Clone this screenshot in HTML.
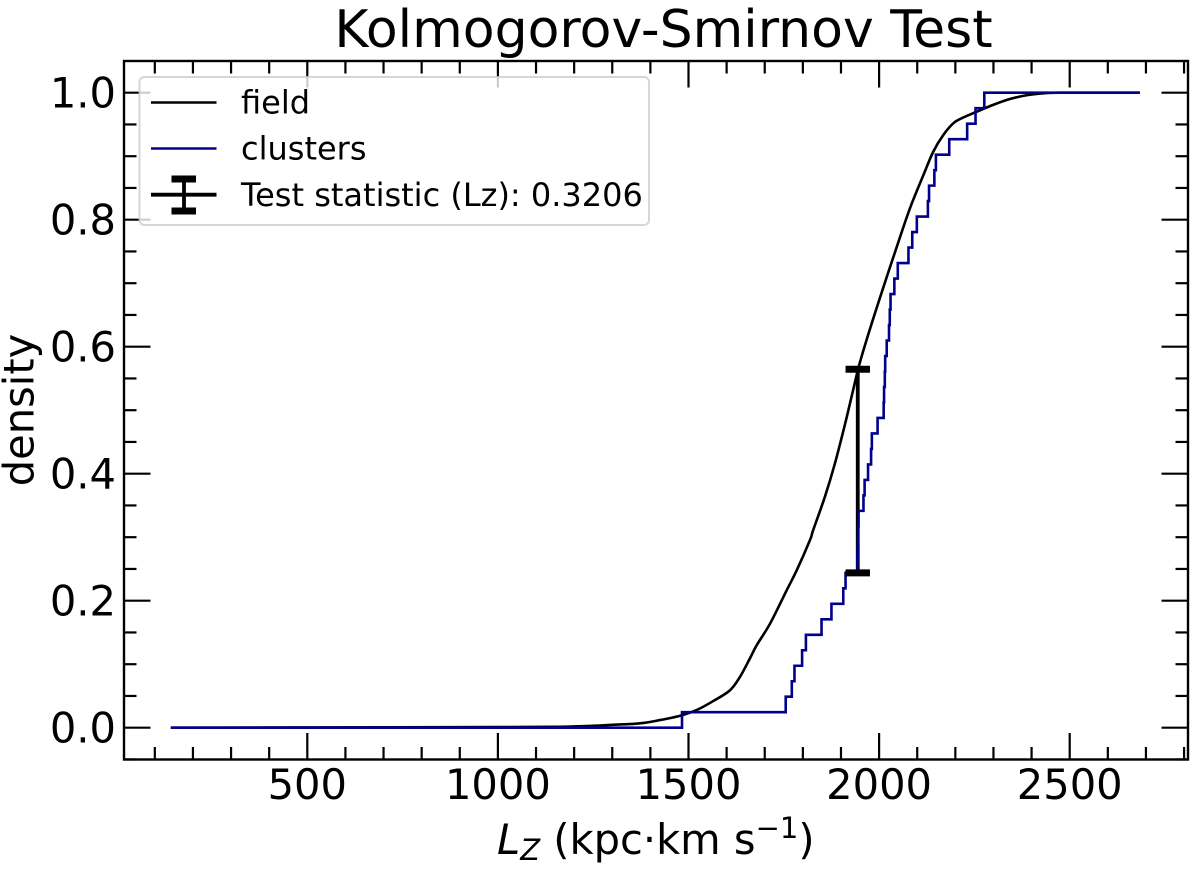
<!DOCTYPE html>
<html>
<head>
<meta charset="utf-8">
<title>Kolmogorov-Smirnov Test</title>
<style>
html,body{margin:0;padding:0;background:#fff;}
svg{display:block;font-family:"DejaVu Sans","Liberation Sans",sans-serif;}
</style>
</head>
<body>
<svg id="chart" width="1200" height="873" viewBox="0 0 1200 873" xmlns="http://www.w3.org/2000/svg">
  <rect x="0" y="0" width="1200" height="873" fill="#fff"/>
  <g id="ticks"></g>
  <g id="tick-labels"></g>
  <path id="stat-bar" fill="none" stroke="#000" stroke-width="3.8"/>
  <path id="field-line" fill="none" stroke="#000" stroke-width="2.6" stroke-linejoin="round"/>
  <path id="clusters-line" fill="none" stroke="#00008b" stroke-width="2.6" stroke-linejoin="miter"/>
  <path id="stat-caps" fill="none" stroke="#000" stroke-width="7"/>
  <rect x="124" y="61" width="1064" height="698.5" fill="none" stroke="#000" stroke-width="2.4"/>

  <g>
    <rect x="139.5" y="77" width="509.5" height="148" rx="5" ry="5" fill="#fff" fill-opacity="0.8" stroke="#ccc" stroke-opacity="0.8" stroke-width="2"/>
    <line x1="151" y1="102.5" x2="216.5" y2="102.5" stroke="#000" stroke-width="2.5"/>
    <text x="241" y="113.5" font-size="32" fill="#000">field</text>
    <line x1="151" y1="148.5" x2="216.5" y2="148.5" stroke="#00008b" stroke-width="2.5"/>
    <text x="241" y="159.5" font-size="32" fill="#000">clusters</text>
    <g>
      <line x1="151" y1="194.7" x2="216.5" y2="194.7" stroke="#000" stroke-width="3.8"/>
      <line x1="184" y1="179" x2="184" y2="211" stroke="#000" stroke-width="3.8"/>
      <line x1="171.5" y1="179" x2="196" y2="179" stroke="#000" stroke-width="7"/>
      <line x1="171.5" y1="211" x2="196" y2="211" stroke="#000" stroke-width="7"/>
    </g>
    <text x="241" y="206" font-size="32" fill="#000">Test statistic (Lz): 0.3206</text>
  </g>

  <text x="663.5" y="47" font-size="52" text-anchor="middle" fill="#000">Kolmogorov-Smirnov Test</text>
  <text transform="translate(33.5,410) rotate(-90)" font-size="41.6" text-anchor="middle" fill="#000">density</text>
  <text x="497" y="854" font-size="41.6" fill="#000"><tspan font-style="italic">L</tspan><tspan font-style="italic" font-size="29" dy="6">Z</tspan><tspan dy="-6"> (kpc·km s</tspan><tspan font-size="29" dy="-16">−1</tspan><tspan dy="16">)</tspan></text>
</svg>

<script>
// Field cumulative distribution
const fieldX = [142,500,1000,1163,1200,1250,1300,1373,1425,1478,1522,1565,1609,1635,1661,1679,1714,1758,1784,1819,1827,1858,1884,1911,1932,1950,1985,2029,2064,2086,2116,2142,2168,2195,2221,2256,2300,2343,2387,2431,2473,2684];
const fieldY = [0,0.0005,0.001,0.0015,0.002,0.003,0.0045,0.0069,0.012,0.0189,0.028,0.042,0.059,0.080,0.109,0.130,0.164,0.217,0.248,0.296,0.311,0.364,0.416,0.479,0.532,0.576,0.645,0.726,0.789,0.826,0.870,0.907,0.933,0.952,0.961,0.970,0.981,0.990,0.996,0.999,1,1];

// Clusters empirical distribution: Lz at each successive step of one sample
const clusterSamples = [1483,1755,1771,1778,1798,1808,1849,1875,1906,1912,1943,1944,1945,1946,1959,1962,1971,1979,1981,1996,2012,2013,2015,2016,2020,2026,2028,2030,2040,2049,2077,2087,2099,2128,2131,2145,2149,2184,2231,2253,2276];
const clusterRange = [142,2684];

// Test statistic
const statX = [1944];
const statLow = [0.2439];
const statValue = [0.3206];

// Axis ticks and labels
const xMajorTicks = [500,1000,1500,2000,2500];
const xMinorTicks = [100,200,300,400,600,700,800,900,1100,1200,1300,1400,1600,1700,1800,1900,2100,2200,2300,2400,2600,2700,2800];
const xTickLabels = ["500","1000","1500","2000","2500"];
const yMajorTicks = [0,0.2,0.4,0.6,0.8,1.0];
const yMinorTicks = [-0.05,0.05,0.1,0.15,0.25,0.3,0.35,0.45,0.5,0.55,0.65,0.7,0.75,0.85,0.9,0.95,1.05];
const yTickLabels = ["0.0","0.2","0.4","0.6","0.8","1.0"];

function xScale(v){ return 307.3 + (v - 500) * 0.3812; }
function yScale(v){ return 727.7 - v * 635; }

const NS = 'http://www.w3.org/2000/svg';
const PLOT = {left:124, right:1188, top:61, bottom:759.5};
const MAJOR = 26.5, MINOR = 12.5;

function makeLine(parent, x1, y1, x2, y2){
  const l = document.createElementNS(NS, 'line');
  l.setAttribute('x1', x1);
  l.setAttribute('y1', y1);
  l.setAttribute('x2', x2);
  l.setAttribute('y2', y2);
  l.setAttribute('stroke', '#000');
  l.setAttribute('stroke-width', '2.2');
  parent.appendChild(l);
  return l;
}

const tickGroup = document.getElementById('ticks');
const labelGroup = document.getElementById('tick-labels');

function addXTick(v, len){
  const px = xScale(v);
  if (px < PLOT.left || px > PLOT.right) return;
  const b = makeLine(tickGroup, px, PLOT.bottom, px, PLOT.bottom - len);
  
  
  const t = makeLine(tickGroup, px, PLOT.top, px, PLOT.top + len);
  
  
}
function addYTick(v, len){
  const py = yScale(v);
  if (py < PLOT.top || py > PLOT.bottom) return;
  const a = makeLine(tickGroup, PLOT.left, py, PLOT.left + len, py);
  
  
  const c = makeLine(tickGroup, PLOT.right, py, PLOT.right - len, py);
  
  
}
xMajorTicks.forEach(function(v){ addXTick(v, MAJOR); });
xMinorTicks.forEach(function(v){ addXTick(v, MINOR); });
yMajorTicks.forEach(function(v){ addYTick(v, MAJOR); });
yMinorTicks.forEach(function(v){ addYTick(v, MINOR); });

xMajorTicks.forEach(function(v, i){
  const t = document.createElementNS(NS, 'text');
  t.setAttribute('x', xScale(v));
  t.setAttribute('y', 799);
  t.setAttribute('font-size', '41.6');
  t.setAttribute('text-anchor', 'middle');
  
  
  t.textContent = xTickLabels[i];
  labelGroup.appendChild(t);
});
yMajorTicks.forEach(function(v, i){
  const t = document.createElementNS(NS, 'text');
  t.setAttribute('x', 116);
  t.setAttribute('y', yScale(v) + 15);
  t.setAttribute('font-size', '41.6');
  t.setAttribute('text-anchor', 'end');
  
  
  t.textContent = yTickLabels[i];
  labelGroup.appendChild(t);
});

// Field curve, smoothed through the read points
const fieldPts = fieldX.map(function(v, i){ return [xScale(v), yScale(fieldY[i])]; });
let fieldD = 'M' + fieldPts[0][0].toFixed(2) + ' ' + fieldPts[0][1].toFixed(2);
for (let i = 0; i < fieldPts.length - 1; i++) {
  const p0 = fieldPts[Math.max(i - 1, 0)];
  const p1 = fieldPts[i];
  const p2 = fieldPts[i + 1];
  const p3 = fieldPts[Math.min(i + 2, fieldPts.length - 1)];
  const c1x = p1[0] + (p2[0] - p0[0]) / 6;
  const c1y = p1[1] + (p2[1] - p0[1]) / 6;
  const c2x = p2[0] - (p3[0] - p1[0]) / 6;
  const c2y = p2[1] - (p3[1] - p1[1]) / 6;
  fieldD += 'C' + c1x.toFixed(2) + ' ' + c1y.toFixed(2) + ' ' + c2x.toFixed(2) + ' ' + c2y.toFixed(2) + ' ' + p2[0].toFixed(2) + ' ' + p2[1].toFixed(2);
}
document.getElementById('field-line').setAttribute('d', fieldD);

// Clusters step curve
const n = clusterSamples.length;
let stepD = 'M' + xScale(clusterRange[0]).toFixed(2) + ' ' + yScale(0).toFixed(2);
clusterSamples.forEach(function(v, i){
  stepD += 'L' + xScale(v).toFixed(2) + ' ' + yScale(i / n).toFixed(2);
  stepD += 'L' + xScale(v).toFixed(2) + ' ' + yScale((i + 1) / n).toFixed(2);
});
stepD += 'L' + xScale(clusterRange[1]).toFixed(2) + ' ' + yScale(1).toFixed(2);
document.getElementById('clusters-line').setAttribute('d', stepD);

// Test statistic error bar
const sx = xScale(statX[0]);
const sLow = yScale(statLow[0]);
const sHigh = yScale(statLow[0] + statValue[0]);
document.getElementById('stat-bar').setAttribute('d', 'M' + sx + ' ' + sLow + 'L' + sx + ' ' + sHigh);
document.getElementById('stat-caps').setAttribute('d',
  'M' + (sx - 12.2) + ' ' + sLow + 'H' + (sx + 12.2) +
  'M' + (sx - 12.2) + ' ' + sHigh + 'H' + (sx + 12.2));
</script>
</body>
</html>
